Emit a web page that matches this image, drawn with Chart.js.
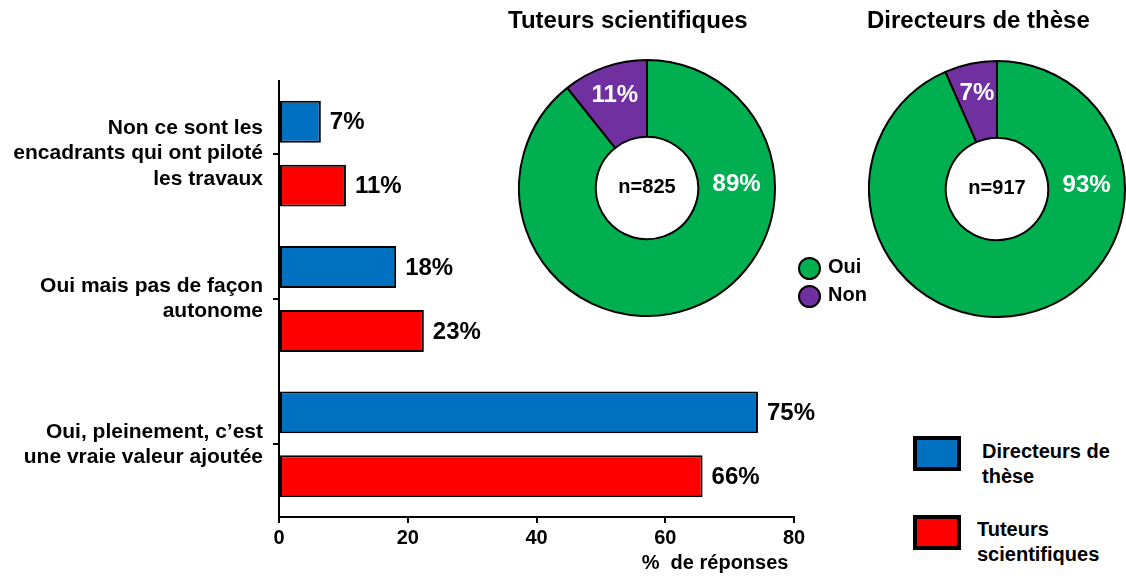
<!DOCTYPE html>
<html>
<head>
<meta charset="utf-8">
<script src="https://cdn.jsdelivr.net/npm/chart.js@4.4.1/dist/chart.umd.min.js"></script>
<style>
  html, body { margin: 0; padding: 0; background: #fff; }
  body {
    width: 1126px; height: 576px; position: relative; overflow: hidden;
    font-family: "Liberation Sans", Arial, sans-serif; font-weight: bold; color: #000;
  }
  .abs { position: absolute; white-space: nowrap; }
  .title { font-size: 24px; line-height: 24px; }
  .dot { width: 19px; height: 19px; border: 2px solid #000; border-radius: 50%; }
  .box { width: 48px; height: 35px; box-sizing: border-box; border: 4px solid #000; }
  .lg { font-size: 20px; line-height: 25px; }
</style>
</head>
<body>
<canvas id="bars" class="abs" style="left:0;top:0" width="830" height="576"></canvas>
<canvas id="donutTuteurs" class="abs" style="left:518px;top:59px" width="258" height="258"></canvas>
<canvas id="donutDirecteurs" class="abs" style="left:868px;top:60px" width="258" height="258"></canvas>

<div class="abs title" style="left:508px;top:8px">Tuteurs scientifiques</div>
<div class="abs title" style="left:867px;top:8px">Directeurs de thèse</div>

<div class="abs dot" style="left:798px;top:257px;background:#00B050"></div>
<div class="abs lg" style="left:828px;top:254px">Oui</div>
<div class="abs dot" style="left:798px;top:285px;background:#7030A0"></div>
<div class="abs lg" style="left:828px;top:282px">Non</div>

<div class="abs box" style="left:913px;top:436px;background:#0070C0"></div>
<div class="abs lg" style="left:982px;top:439px">Directeurs de<br>thèse</div>
<div class="abs box" style="left:913px;top:515px;background:#FF0000"></div>
<div class="abs lg" style="left:977px;top:517px">Tuteurs<br>scientifiques</div>

<script>
// values
const categories = [
  ["Non ce sont les", "encadrants qui ont piloté", "les travaux"],
  ["Oui mais pas de façon", "autonome"],
  ["Oui, pleinement, c’est", "une vraie valeur ajoutée"]
];
const seriesNames = ["Directeurs de thèse", "Tuteurs scientifiques"];
const directeursValues = [6.5, 18.2, 74.4];
const tuteursValues = [10.4, 22.5, 65.8];
const directeursLabels = ["7%", "18%", "75%"];
const tuteursLabels = ["11%", "23%", "66%"];
const xTicks = [0, 20, 40, 60, 80];
const xTitle = "%  de réponses\u00a0";

const donutCategories = ["Oui", "Non"];
const tuteursDonut = [89.3, 10.7];
const tuteursDonutLabels = ["89%", "11%"];
const tuteursN = "n=825";
const directeursDonut = [93.4, 6.6];
const directeursDonutLabels = ["93%", "7%"];
const directeursN = "n=917";

const FONT = '"Liberation Sans", Arial, sans-serif';
Chart.defaults.font.family = FONT;
Chart.defaults.font.weight = "bold";
Chart.defaults.color = "#000";

// percent text at the end of each bar
const barValueLabels = {
  id: "barValueLabels",
  afterDatasetsDraw(chart) {
    const ctx = chart.ctx;
    ctx.save();
    ctx.font = "bold 24px " + FONT;
    ctx.fillStyle = "#000";
    ctx.textAlign = "left";
    ctx.textBaseline = "middle";
    chart.data.datasets.forEach((ds, i) => {
      chart.getDatasetMeta(i).data.forEach((bar, j) => {
        ctx.fillText(ds.valueLabels[j], bar.x + 9, bar.y + 1);
      });
    });
    ctx.restore();
  },
};

new Chart(document.getElementById("bars"), {
  type: "bar",
  data: {
    labels: categories,
    datasets: [
      {
        label: seriesNames[0],
        data: directeursValues,
        valueLabels: directeursLabels,
        backgroundColor: "#0070C0",
      },
      {
        label: seriesNames[1],
        data: tuteursValues,
        valueLabels: tuteursLabels,
        backgroundColor: "#FF0000",
      },
    ],
  },
  options: {
    indexAxis: "y",
    responsive: false,
    animation: false,
    layout: { padding: { top: 81, right: 36, bottom: 0, left: 0 } },
    datasets: {
      bar: {
        borderColor: "#000",
        borderWidth: 2,
        borderSkipped: false,
        categoryPercentage: 0.88,
        barPercentage: 0.656,
      },
    },
    plugins: { legend: { display: false }, tooltip: { enabled: false } },
    scales: {
      x: {
        min: 0,
        max: 80,
        afterBuildTicks: (scale) => {
          scale.ticks = xTicks.map((v) => ({ value: v }));
        },
        afterFit: (scale) => { scale.height = 59; },
        border: { color: "#000", width: 2 },
        grid: { drawOnChartArea: false, color: "#000", lineWidth: 2, tickLength: 6 },
        ticks: { font: { size: 20, weight: "bold" }, color: "#000", padding: 3 },
        title: {
          display: true,
          text: xTitle,
          align: "end",
          color: "#000",
          font: { size: 20, weight: "bold" },
          padding: { top: 0, bottom: 1 },
        },
      },
      y: {
        afterFit: (scale) => { scale.width = 279; },
        border: { color: "#000", width: 2 },
        grid: { drawOnChartArea: false, offset: false, color: "#000", lineWidth: 2, tickLength: 6 },
        ticks: { font: { size: 21, weight: "bold", lineHeight: 1.2 }, color: "#000", padding: 10 },
      },
    },
  },
  plugins: [barValueLabels],
});

// percent labels on the slices and the n= text in the hole
const donutText = {
  id: "donutText",
  afterDatasetsDraw(chart) {
    const ctx = chart.ctx;
    const arcs = chart.getDatasetMeta(0).data;
    const ds = chart.data.datasets[0];
    ctx.save();
    ctx.textAlign = "center";
    ctx.textBaseline = "middle";
    ctx.font = "bold 24px " + FONT;
    ctx.fillStyle = "#fff";
    arcs.forEach((arc, i) => {
      const span = arc.endAngle - arc.startAngle;
      const big = span > Math.PI;
      const ang = big ? 0 : (arc.startAngle + arc.endAngle) / 2;
      const r = (arc.innerRadius + arc.outerRadius) / 2 + (big ? 0 : 8);
      ctx.fillText(ds.sliceLabels[i], arc.x + r * Math.cos(ang), arc.y + r * Math.sin(ang) - (big ? 4 : 0));
    });
    ctx.fillStyle = "#000";
    ctx.font = "bold 20px " + FONT;
    ctx.fillText(ds.centerText, arcs[0].x, arcs[0].y - 1);
    ctx.restore();
  },
};

function makeDonut(id, values, labels, centerText) {
  return new Chart(document.getElementById(id), {
    type: "doughnut",
    data: {
      labels: donutCategories,
      datasets: [{
        data: values,
        sliceLabels: labels,
        centerText: centerText,
        backgroundColor: ["#00B050", "#7030A0"],
        borderColor: "#000",
        borderWidth: 2,
        borderAlign: "center",
      }],
    },
    options: {
      responsive: false,
      animation: false,
      cutout: "40%",
      plugins: { legend: { display: false }, tooltip: { enabled: false } },
    },
    plugins: [donutText],
  });
}

makeDonut("donutTuteurs", tuteursDonut, tuteursDonutLabels, tuteursN);
makeDonut("donutDirecteurs", directeursDonut, directeursDonutLabels, directeursN);
</script>
</body>
</html>
